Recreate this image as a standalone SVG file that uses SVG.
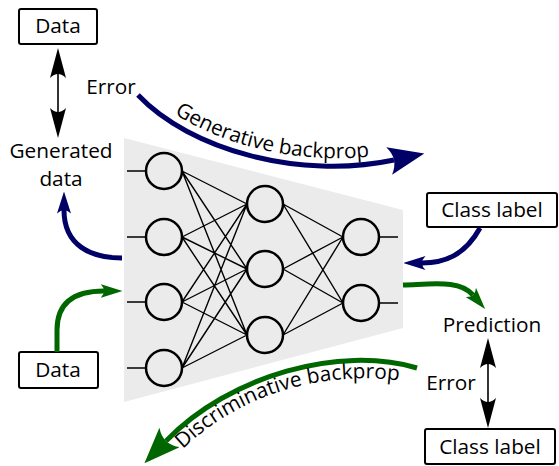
<svg xmlns="http://www.w3.org/2000/svg" width="559" height="466" viewBox="0 0 559 466">
  <style>
    text { font-family: "Open Sans", "DejaVu Sans", sans-serif; font-size: 20.8px; fill: #000; }
    .box { fill: #fff; stroke: #000; stroke-width: 2; }
    .node { fill: none; stroke: #000; stroke-width: 2.5; }
    .edge { stroke: #000; stroke-width: 1.4; fill: none; }
    .navy { stroke: #000066; stroke-width: 5; fill: none; }
    .green { stroke: #006600; stroke-width: 5; fill: none; }
    .dbl { stroke: #000; stroke-width: 1.6; fill: none; }
  </style>
  <defs>
    <marker id="headBlack" viewBox="0 0 30 16" refX="4" refY="8" markerWidth="30" markerHeight="16" markerUnits="userSpaceOnUse" orient="auto-start-reverse">
      <path d="M0,0 L30,8 L0,16 Q8,8 0,0 Z" fill="#000"/>
    </marker>
    <marker id="bigNavy" viewBox="0 0 36 28" refX="5" refY="14" markerWidth="36" markerHeight="28" markerUnits="userSpaceOnUse" orient="auto">
      <path d="M0,0 L36,14 L0,28 Q10,14 0,0 Z" fill="#000066"/>
    </marker>
    <marker id="bigGreen" viewBox="0 0 36 28" refX="5" refY="14" markerWidth="36" markerHeight="28" markerUnits="userSpaceOnUse" orient="auto">
      <path d="M0,0 L36,14 L0,28 Q10,14 0,0 Z" fill="#006600"/>
    </marker>
    <marker id="smallNavy" viewBox="0 0 22 14" refX="3.5" refY="7" markerWidth="22" markerHeight="14" markerUnits="userSpaceOnUse" orient="auto">
      <path d="M0,0 L22,7 L0,14 Q7,7 0,0 Z" fill="#000066"/>
    </marker>
    <marker id="smallGreen" viewBox="0 0 22 14" refX="3.5" refY="7" markerWidth="22" markerHeight="14" markerUnits="userSpaceOnUse" orient="auto">
      <path d="M0,0 L22,7 L0,14 Q7,7 0,0 Z" fill="#006600"/>
    </marker>
    <path id="genText" d="M142,87 C 194,142 304,172 398,152"/>
    <path id="discText" d="M180,452 C 240,392 330,366 422,384"/>
  </defs>

  <!-- network body -->
  <g id="network">
    <polygon points="124,138 403,210 403,328 124,402" fill="#ebebeb"/>
    <g id="stubs" class="edge">
      <path d="M127,171 H146 M127,237 H146 M127,302 H146 M127,368 H146"/>
      <path d="M379,237 H398 M379,303 H398"/>
    </g>
    <g id="weights" class="edge">
      <path d="M182,171 L247,204 M182,171 L247,269 M182,171 L247,335
               M182,237 L247,204 M182,237 L247,269 M182,237 L247,335
               M182,302 L247,204 M182,302 L247,269 M182,302 L247,335
               M182,368 L247,204 M182,368 L247,269 M182,368 L247,335"/>
      <path d="M283,204 L343,237 M283,204 L343,303
               M283,269 L343,237 M283,269 L343,303
               M283,335 L343,237 M283,335 L343,303"/>
    </g>
    <g id="layer1">
      <circle class="node" cx="164" cy="171" r="18"/>
      <circle class="node" cx="164" cy="237" r="18"/>
      <circle class="node" cx="164" cy="302" r="18"/>
      <circle class="node" cx="164" cy="368" r="18"/>
    </g>
    <g id="layer2">
      <circle class="node" cx="265" cy="204" r="18"/>
      <circle class="node" cx="265" cy="269" r="18"/>
      <circle class="node" cx="265" cy="335" r="18"/>
    </g>
    <g id="layer3">
      <circle class="node" cx="361" cy="237" r="18"/>
      <circle class="node" cx="361" cy="303" r="18"/>
    </g>
  </g>

  <g id="data-top">
    <rect class="box" x="19" y="9" width="78" height="35" rx="2"/>
    <text x="58" y="33" text-anchor="middle">Data</text>
  </g>
  <g id="generated-data">
    <text x="61" y="158" text-anchor="middle">Generated</text>
    <text x="61" y="186" text-anchor="middle">data</text>
  </g>
  <g id="error-top">
    <text x="111" y="94" text-anchor="middle">Error</text>
  </g>
  <g id="data-bottom">
    <rect class="box" x="19" y="352" width="79" height="36" rx="2"/>
    <text x="58" y="377" text-anchor="middle">Data</text>
  </g>
  <g id="class-label-top">
    <rect class="box" x="427" y="193" width="130" height="34" rx="2"/>
    <text x="492" y="217" text-anchor="middle">Class label</text>
  </g>
  <g id="prediction">
    <text x="492" y="332" text-anchor="middle">Prediction</text>
  </g>
  <g id="error-bottom">
    <text x="451" y="390" text-anchor="middle">Error</text>
  </g>
  <g id="class-label-bottom">
    <rect class="box" x="425" y="429" width="130" height="35" rx="2"/>
    <text x="490" y="454" text-anchor="middle">Class label</text>
  </g>

  <g id="connectors">
    <path class="dbl" d="M58,74 L58,112" marker-start="url(#headBlack)" marker-end="url(#headBlack)"/>
    <path class="dbl" d="M488,364 L488,402" marker-start="url(#headBlack)" marker-end="url(#headBlack)"/>
    <path class="navy" d="M138,95 C 190,150 300,180 394,160" marker-end="url(#bigNavy)"/>
    <path class="navy" d="M122,258 C 90,258 64,245 64,210" marker-end="url(#smallNavy)"/>
    <path class="navy" d="M480,228 C 465,255 445,263 422,263" marker-end="url(#smallNavy)"/>
    <path class="green" d="M57,352 L57,330 C 57,302 75,291 104,291" marker-end="url(#smallGreen)"/>
    <path class="green" d="M403,285 C 435,284 460,280 473,295" marker-end="url(#smallGreen)"/>
    <path class="green" d="M417,368 C 340,345 230,375 166,441" marker-end="url(#bigGreen)"/>
    <text><textPath href="#genText" startOffset="42">Generative backprop</textPath></text>
    <text><textPath href="#discText" startOffset="4">Discriminative backprop</textPath></text>
  </g>
</svg>
